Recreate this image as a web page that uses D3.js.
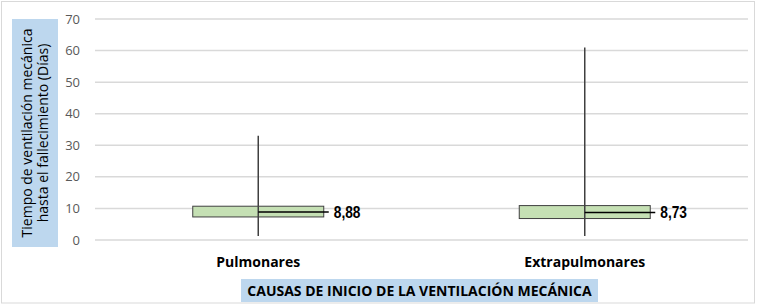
<!DOCTYPE html>
<html>
<head>
<meta charset="utf-8">
<script src="https://cdn.jsdelivr.net/npm/d3@7"></script>
<style>
  body { margin: 0; background: #fff; }
  svg { display: block; }
  .tick-label { font-family: "Open Sans", "Noto Sans", sans-serif; font-size: 13px; fill: #595959; }
  .cat-label { font-family: "Open Sans", "Noto Sans", sans-serif; font-size: 14px; font-weight: bold; fill: #000; }
  .med-label { font-family: "Liberation Sans", Arial, sans-serif; font-size: 16px; font-weight: bold; fill: #000; }
</style>
</head>
<body>
<div id="chart"></div>
<script>
// box values
var categories = ["Pulmonares", "Extrapulmonares"];
var minVals = [1.3, 1.3];
var q1Vals = [7.3, 6.8];
var medianVals = [8.88, 8.73];
var q3Vals = [10.7, 10.9];
var maxVals = [33, 61];
var medianLabels = ["8,88", "8,73"];
var yTicks = [0, 10, 20, 30, 40, 50, 60, 70];

var W = 757, H = 306;
var margin = { top: 19, right: 9, bottom: 66, left: 95 };

var svg = d3.select("#chart").append("svg")
  .attr("width", W)
  .attr("height", H);

// outer frame
svg.append("rect")
  .attr("x", 1.5).attr("y", 1.5)
  .attr("width", W - 4).attr("height", H - 4.5)
  .attr("fill", "#fff")
  .attr("stroke", "#d9d9d9")
  .attr("stroke-width", 1);

var y = d3.scaleLinear()
  .domain([0, 70])
  .range([240, margin.top]);

var x = d3.scaleBand()
  .domain(categories)
  .range([margin.left, W - margin.right]);

// gridlines
svg.append("g")
  .selectAll("line")
  .data(yTicks)
  .enter().append("line")
  .attr("x1", margin.left)
  .attr("x2", 748)
  .attr("y1", function(d) { return y(d); })
  .attr("y2", function(d) { return y(d); })
  .attr("stroke", "#d9d9d9")
  .attr("stroke-width", 1.5);

// y axis labels
svg.append("g")
  .selectAll("text")
  .data(yTicks)
  .enter().append("text")
  .attr("class", "tick-label")
  .attr("x", 80)
  .attr("y", function(d) { return y(d); })
  .attr("dy", "0.35em")
  .attr("text-anchor", "end")
  .text(function(d) { return d; });

// y title with blue box
svg.append("rect")
  .attr("x", 12).attr("y", 19)
  .attr("width", 46).attr("height", 228)
  .attr("fill", "#bdd7ee");

var yTitle = svg.append("text")
  .attr("transform", "translate(35,133) rotate(-90)")
  .attr("text-anchor", "middle")
  .style("font-family", "'Open Sans', 'Noto Sans', sans-serif")
  .style("font-size", "14px")
  .style("fill", "#000");
yTitle.append("tspan").attr("x", 0).attr("dy", "-0.25em").text("Tiempo de ventilación mecánica");
yTitle.append("tspan").attr("x", 0).attr("dy", "1.2em").text("hasta el fallecimiento (Días)");

var boxW = 131;

var groups = svg.append("g")
  .selectAll("g")
  .data(categories)
  .enter().append("g");

// whiskers
groups.append("line")
  .attr("x1", function(d) { return x(d) + x.bandwidth() / 2; })
  .attr("x2", function(d) { return x(d) + x.bandwidth() / 2; })
  .attr("y1", function(d, i) { return y(maxVals[i]); })
  .attr("y2", function(d, i) { return y(minVals[i]); })
  .attr("stroke", "#404040")
  .attr("stroke-width", 1.5);

// boxes
groups.append("rect")
  .attr("x", function(d) { return x(d) + x.bandwidth() / 2 - boxW / 2; })
  .attr("y", function(d, i) { return y(q3Vals[i]); })
  .attr("width", boxW)
  .attr("height", function(d, i) { return y(q1Vals[i]) - y(q3Vals[i]); })
  .attr("fill", "#c5e0b4")
  .attr("stroke", "#404040")
  .attr("stroke-width", 1);

// whisker segment over the box (drawn on top)
groups.append("line")
  .attr("x1", function(d) { return x(d) + x.bandwidth() / 2; })
  .attr("x2", function(d) { return x(d) + x.bandwidth() / 2; })
  .attr("y1", function(d, i) { return y(q3Vals[i]); })
  .attr("y2", function(d, i) { return y(q1Vals[i]); })
  .attr("stroke", "#404040")
  .attr("stroke-width", 1.5);

// median line
groups.append("line")
  .attr("x1", function(d) { return x(d) + x.bandwidth() / 2; })
  .attr("x2", function(d) { return x(d) + x.bandwidth() / 2 + boxW / 2 + 5; })
  .attr("y1", function(d, i) { return y(medianVals[i]); })
  .attr("y2", function(d, i) { return y(medianVals[i]); })
  .attr("stroke", "#000")
  .attr("stroke-width", 1.5);

// condensed bold label (narrow font squeezed horizontally)
groups.append("text")
  .attr("class", "med-label")
  .attr("transform", function(d, i) {
    return "translate(" + (x(d) + x.bandwidth() / 2 + boxW / 2 + 10) + "," + y(medianVals[i]) + ") scale(0.86,1)";
  })
  .attr("dy", "0.36em")
  .text(function(d, i) { return medianLabels[i]; });

// category labels
groups.append("text")
  .attr("class", "cat-label")
  .attr("x", function(d) { return x(d) + x.bandwidth() / 2; })
  .attr("y", 267)
  .attr("text-anchor", "middle")
  .text(function(d) { return d; });

// x title with blue box
svg.append("rect")
  .attr("x", 241).attr("y", 279)
  .attr("width", 357).attr("height", 23)
  .attr("fill", "#bdd7ee");

svg.append("text")
  .attr("x", 419.5)
  .attr("y", 291)
  .attr("dy", "0.36em")
  .attr("text-anchor", "middle")
  .style("font-family", "'Open Sans', 'Noto Sans', sans-serif")
  .style("font-size", "14px")
  .style("font-weight", "bold")
  .style("fill", "#000")
  .text("CAUSAS DE INICIO DE LA VENTILACIÓN MECÁNICA");
</script>
</body>
</html>
